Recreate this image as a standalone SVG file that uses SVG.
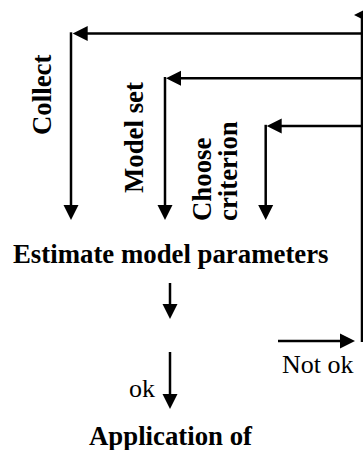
<svg xmlns="http://www.w3.org/2000/svg" width="363" height="450" viewBox="0 0 363 450">
<style>
text{font-family:'Liberation Serif','Times New Roman',Times,serif;font-size:26px;fill:#000}
.b{font-weight:bold;font-size:26.8px}
.c{fill:none;stroke:#000;stroke-width:2.5}
</style>
<defs>
<marker id="ah" markerUnits="userSpaceOnUse" markerWidth="16" markerHeight="16" refX="5" refY="7.5" orient="auto" overflow="visible">
<path d="M0,0 L15,7.5 L0,15 z" fill="#000"/>
</marker>
</defs>
<rect width="363" height="450" fill="#fff"/>
<g id="connectors">
<path class="c" d="M375,15 L364,15" marker-end="url(#ah)"/>
<path class="c" d="M362,14 L362,342"/>
<path class="c" d="M362,33.5 L82.7,33.5" marker-end="url(#ah)"/>
<path class="c" d="M71,32.3 L71,210" marker-end="url(#ah)"/>
<path class="c" d="M362,78.3 L176,78.3" marker-end="url(#ah)"/>
<path class="c" d="M165,77 L165,210" marker-end="url(#ah)"/>
<path class="c" d="M362,126 L276.7,126" marker-end="url(#ah)"/>
<path class="c" d="M265.7,124.8 L265.7,210" marker-end="url(#ah)"/>
<path class="c" d="M170,283 L170,309" marker-end="url(#ah)"/>
<path class="c" d="M170,352 L170,399" marker-end="url(#ah)"/>
<path class="c" d="M278,341 L345,341" marker-end="url(#ah)"/>
</g>
<g id="collect"><text class="b" transform="translate(51,135) rotate(-90)">Collect</text></g>
<g id="modelset"><text class="b" transform="translate(143,193) rotate(-90)">Model set</text></g>
<g id="criterion">
<text class="b" transform="translate(211,221) rotate(-90)">Choose</text>
<text class="b" transform="translate(237,221) rotate(-90)">criterion</text>
</g>
<g id="estimate"><text class="b" x="13" y="263">Estimate model parameters</text></g>
<g id="ok"><text x="129" y="397">ok</text></g>
<g id="notok"><text x="282" y="373">Not ok</text></g>
<g id="application"><text class="b" x="89" y="445">Application of</text></g>
</svg>
